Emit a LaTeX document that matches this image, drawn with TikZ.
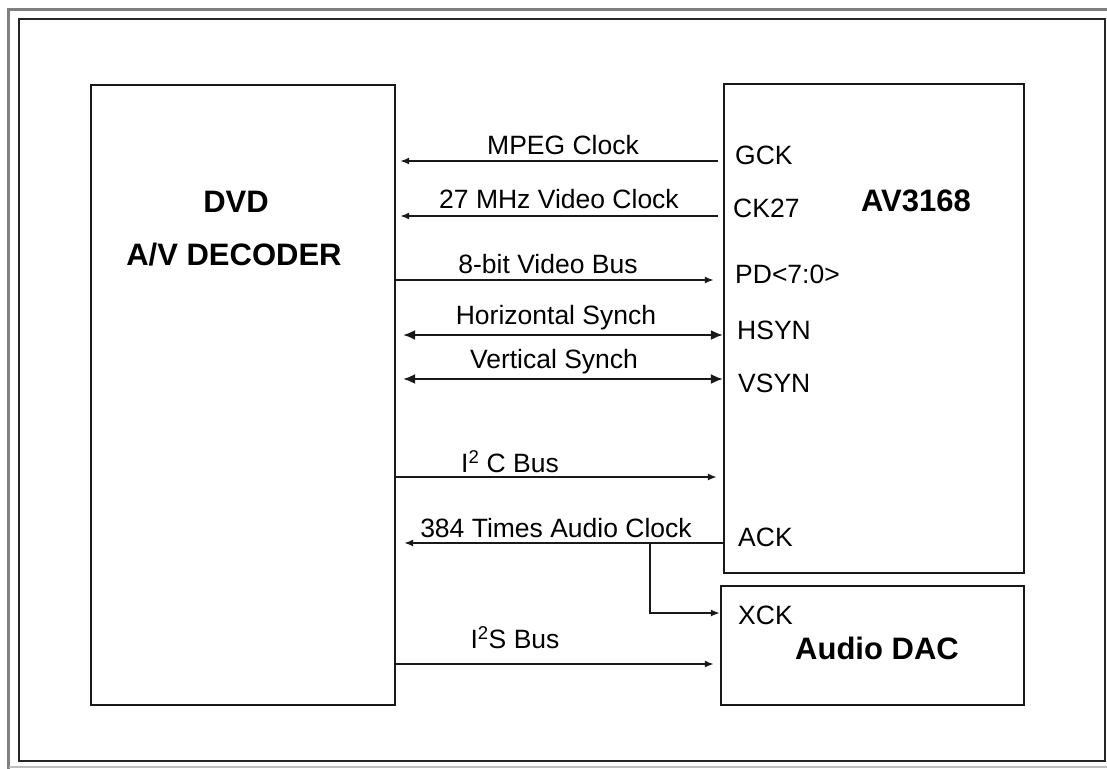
\documentclass[tikz,border=0pt]{standalone}
\usepackage{fontspec}
\setmainfont{Liberation Sans}
\usetikzlibrary{arrows.meta}
\begin{document}
\begin{tikzpicture}[x=1pt,y=-1pt,
  box/.style={draw=black!90, line width=2.2pt, inner sep=0pt},
  sig/.style={line width=2pt, draw=black!90},
  tipa/.style={-{Latex[length=9pt,width=7pt]}},
  tipb/.style={{Latex[length=12pt,width=10pt]}-{Latex[length=12pt,width=10pt]}},
  lbl/.style={font=\fontsize{26.5}{30}\selectfont, inner sep=0pt, text=black},
  pin/.style={font=\fontsize{26.5}{30}\selectfont, inner sep=0pt, anchor=west, text=black},
  ttl/.style={font=\fontsize{31}{36}\selectfont\bfseries, inner sep=0pt, text=black}]
\useasboundingbox (0,0) rectangle (1107,768);
% frames
\draw[line width=3pt, draw=black!50] (8.5,770) -- (8.5,9.5) -- (1110,9.5);
\draw[line width=2pt, draw=black!25] (8.5,767) -- (1110,767);
\draw[line width=2.2pt, draw=black!85] (19,19) rectangle (1105,761);
% boxes
\node[box, minimum width=304pt, minimum height=620pt] (dvd) at (243,395) {};
\node[box, minimum width=300pt, minimum height=489pt] (av) at (874,328.5) {};
\node[box, minimum width=303pt, minimum height=119pt] (dac) at (872.5,645.5) {};
% titles
\node[ttl] (t1) at (236,202) {DVD};
\node[ttl] (t2) at (234,255) {A/V DECODER};
\node[ttl] (t3) at (916,201) {AV3168};
\node[ttl] (t4) at (877,648) {Audio DAC};
% pins
\node[pin] (gck) at (735,155) {GCK};
\node[pin] (ck27) at (733,208) {CK27};
\node[pin] (pd) at (735,274) {PD<7:0>};
\node[pin] (hsyn) at (737,330) {HSYN};
\node[pin] (vsyn) at (738,383) {VSYN};
\node[pin] (ack) at (738,537) {ACK};
\node[pin] (xck) at (738,615) {XCK};
% connectors
\draw[sig,tipa] ([xshift=-5pt]av.west |- 0,161) -- ([xshift=4pt]dvd.east |- 0,161);
\draw[sig,tipa] ([xshift=-5pt]av.west |- 0,216) -- ([xshift=4pt]dvd.east |- 0,216);
\draw[sig,tipa] (dvd.east |- 0,280) -- ([xshift=-9pt]av.west |- 0,280);
\draw[sig,tipb] ([xshift=7pt]dvd.east |- 0,335) -- (av.west |- 0,335);
\draw[sig,tipb] ([xshift=7pt]dvd.east |- 0,379) -- (av.west |- 0,379);
\draw[sig,tipa] (dvd.east |- 0,477) -- ([xshift=-6pt]av.west |- 0,477);
\draw[sig,tipa] (av.west |- 0,543) -- ([xshift=8pt]dvd.east |- 0,543);
\coordinate (br) at (650,543);
\draw[sig,tipa] (br) |- (dac.west |- 0,613);
\draw[sig,tipa] (dvd.east |- 0,664) -- ([xshift=-6pt]dac.west |- 0,664);
% labels
\node[lbl] (l1) at (563,145) {MPEG Clock};
\node[lbl] (l2) at (559,199) {27 MHz Video Clock};
\node[lbl] (l3) at (548,264) {8-bit Video Bus};
\node[lbl] (l4) at (556,318) {Horizontal Synch};
\node[lbl] (l5) at (554,362) {Vertical Synch};
\node[lbl] (l6) at (510,462) {I\textsuperscript{2} C Bus};
\node[lbl] (l7) at (556,528) {384 Times Audio Clock};
\node[lbl] (l8) at (515,638) {I\textsuperscript{2}S Bus};
\end{tikzpicture}
\end{document}
